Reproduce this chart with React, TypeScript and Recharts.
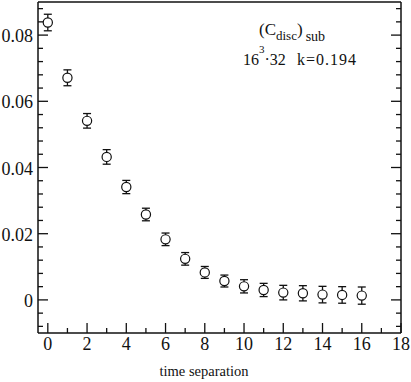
import { ScatterChart, Scatter, XAxis, YAxis, ErrorBar } from "recharts";

const timeSep = [0, 1, 2, 3, 4, 5, 6, 7, 8, 9, 10, 11, 12, 13, 14, 15, 16];
const cDisc = [
  0.0838, 0.0671, 0.0541, 0.0432, 0.0341, 0.0258, 0.0183, 0.0124, 0.0083,
  0.0057, 0.0041, 0.003, 0.0022, 0.002, 0.0016, 0.0015, 0.0013,
];
const cErr = [
  0.0025, 0.0024, 0.0022, 0.0022, 0.002, 0.0019, 0.0019, 0.0019, 0.0018,
  0.0018, 0.002, 0.002, 0.0022, 0.0023, 0.0025, 0.0025, 0.0026,
];

const xTicks = [0, 1, 2, 3, 4, 5, 6, 7, 8, 9, 10, 11, 12, 13, 14, 15, 16, 17, 18];
const yTicks = [
  -0.008, -0.004, 0, 0.004, 0.008, 0.012, 0.016, 0.02, 0.024, 0.028, 0.032,
  0.036, 0.04, 0.044, 0.048, 0.052, 0.056, 0.06, 0.064, 0.068, 0.072, 0.076,
  0.08, 0.084, 0.088,
];

const data = timeSep.map((t, i) => ({ t, c: cDisc[i], err: cErr[i] }));

const FONT = "'Liberation Serif', 'Times New Roman', serif";
const INK = "#111";
const MAJOR = 10;
const MINOR = 5;

const isMajorX = (v: number) => v % 2 === 0;
const isMajorY = (v: number) => Math.abs(v / 0.02 - Math.round(v / 0.02)) < 1e-6;
const yLabel = (v: number) => (Math.abs(v) < 1e-9 ? "0" : v.toFixed(2));

/* Inward tick marks; labels only on the bottom and left sides */
function tickFor(side: "bottom" | "top" | "left" | "right") {
  return (props: any) => {
    const { x, y, payload } = props;
    const v = payload.value as number;
    const major = side === "bottom" || side === "top" ? isMajorX(v) : isMajorY(v);
    const len = major ? MAJOR : MINOR;
    let line;
    if (side === "bottom") line = <line x1={x} y1={y} x2={x} y2={y - len} />;
    else if (side === "top") line = <line x1={x} y1={y} x2={x} y2={y + len} />;
    else if (side === "left") line = <line x1={x} y1={y} x2={x + len} y2={y} />;
    else line = <line x1={x} y1={y} x2={x - len} y2={y} />;
    return (
      <g key={`${side}-${v}`}>
        <g stroke={INK} strokeWidth={1.3}>{line}</g>
        {side === "bottom" && major && (
          <text x={x} y={y + 17} textAnchor="middle" fontSize={18} fontFamily={FONT} fill={INK}>
            {v}
          </text>
        )}
        {side === "left" && major && (
          <text x={x - 5} y={y + 7} textAnchor="end" fontSize={18} fontFamily={FONT} fill={INK}>
            {yLabel(v)}
          </text>
        )}
      </g>
    );
  };
}

const axisLine = { stroke: INK, strokeWidth: 1.5 };

export default function App() {
  return (
    <div style={{ position: "absolute", left: 0, top: 0, width: 411, height: 382, background: "#fff" }}>
      <ScatterChart
        width={411}
        height={382}
        margin={{ top: 1, right: 9, left: 37, bottom: 48 }}
      >
        <XAxis
          type="number"
          dataKey="t"
          domain={[-0.5, 18]}
          ticks={xTicks}
          interval={0}
          allowDataOverflow
          height={1}
          tickSize={0}
          tickMargin={0}
          tickLine={false}
          axisLine={axisLine}
          tick={tickFor("bottom")}
        />
        <XAxis
          xAxisId="top"
          orientation="top"
          type="number"
          domain={[-0.5, 18]}
          ticks={xTicks}
          interval={0}
          allowDataOverflow
          height={1}
          tickSize={0}
          tickMargin={0}
          tickLine={false}
          axisLine={axisLine}
          tick={tickFor("top")}
        />
        <YAxis
          type="number"
          dataKey="c"
          domain={[-0.01, 0.09]}
          ticks={yTicks}
          interval={0}
          allowDataOverflow
          width={1}
          tickSize={0}
          tickMargin={0}
          tickLine={false}
          axisLine={axisLine}
          tick={tickFor("left")}
        />
        <YAxis
          yAxisId="right"
          orientation="right"
          type="number"
          domain={[-0.01, 0.09]}
          ticks={yTicks}
          interval={0}
          allowDataOverflow
          width={1}
          tickSize={0}
          tickMargin={0}
          tickLine={false}
          axisLine={axisLine}
          tick={tickFor("right")}
        />
        <Scatter
          data={data}
          isAnimationActive={false}
          shape={(p: any) => (
            <circle cx={p.cx} cy={p.cy} r={4.6} fill="#fff" stroke={INK} strokeWidth={1.2} />
          )}
        >
          <ErrorBar dataKey="err" direction="y" width={4} stroke={INK} strokeWidth={1.3} isAnimationActive={false} />
        </Scatter>
      </ScatterChart>

      {/* Annotation and axis title */}
      <svg
        width={411}
        height={382}
        style={{ position: "absolute", left: 0, top: 0, pointerEvents: "none" }}
        fontFamily={FONT}
        fill={INK}
      >
        <text x={259} y={35} fontSize={17}>
          (C
          <tspan dy={5} fontSize={13}>disc</tspan>
          <tspan dy={-5} fontSize={17}>)</tspan>
          <tspan dy={6} dx={3} fontSize={14}>sub</tspan>
        </text>
        <text x={243} y={65} fontSize={16}>
          16
          <tspan dy={-12} fontSize={11}>3</tspan>
          <tspan dy={12} fontSize={16}>·32</tspan>
        </text>
        <text x={297} y={65} fontSize={16} textLength={59} lengthAdjust="spacing">
          k=0.194
        </text>
        <text x={204} y={376} textAnchor="middle" fontSize={14.5}>
          time separation
        </text>
      </svg>
    </div>
  );
}
